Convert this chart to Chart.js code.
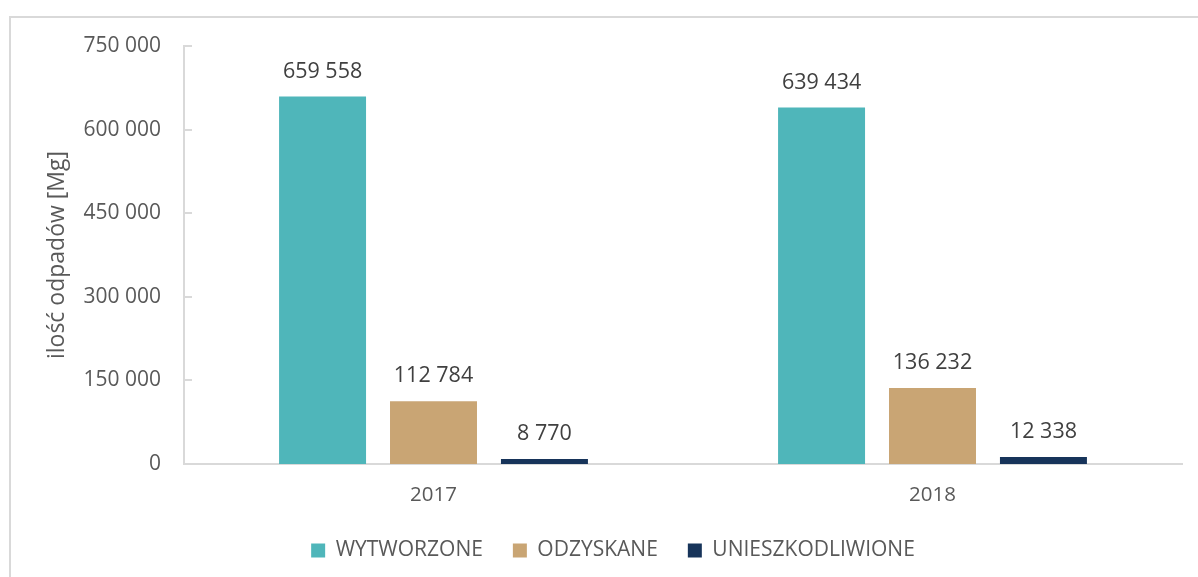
<!DOCTYPE html>
<html lang="pl">
<head>
<meta charset="utf-8">
<title>Odpady 2017–2018</title>
<script src="https://cdn.jsdelivr.net/npm/chart.js"></script>
<style>
  html, body { margin: 0; padding: 0; background: #fff; overflow: hidden; }
  #wrap { position: relative; width: 1198px; height: 577px; }
  #frame {
    position: absolute; left: 9px; top: 16px;
    width: 1300px; height: 700px;
    border: 2px solid #d9d9d9; box-sizing: border-box;
  }
  #chart { position: absolute; left: 0; top: 0; }
</style>
</head>
<body>
<div id="wrap">
  <div id="frame"></div>
  <canvas id="chart" width="1198" height="577"></canvas>
</div>
<script>
const years = ['2017', '2018'];
const wytworzone = [659558, 639434];
const odzyskane = [112784, 136232];
const unieszkodliwione = [8770, 12338];
const yTicks = [0, 150000, 300000, 450000, 600000, 750000];

const FONT = "'Open Sans', 'Noto Sans', sans-serif";
const LINE = '#d9d9d9';

// 659558 -> "659 558"
function fmt(v) {
  return String(v).replace(/\B(?=(\d{3})+(?!\d))/g, ' ');
}

// value labels above each bar
const barLabels = {
  id: 'barLabels',
  afterDatasetsDraw(chart) {
    const ctx = chart.ctx;
    ctx.save();
    ctx.font = '21.5px ' + FONT;
    ctx.fillStyle = '#404040';
    ctx.textAlign = 'center';
    ctx.textBaseline = 'middle';
    chart.data.datasets.forEach((ds, i) => {
      chart.getDatasetMeta(i).data.forEach((bar, j) => {
        ctx.fillText(fmt(ds.data[j]), bar.x, bar.y - 25);
      });
    });
    ctx.restore();
  }
};

// short tick marks pointing into the plot from the value axis
const innerTicks = {
  id: 'innerTicks',
  afterDraw(chart) {
    const y = chart.scales.y;
    const ctx = chart.ctx;
    ctx.save();
    ctx.strokeStyle = LINE;
    ctx.lineWidth = 2;
    yTicks.forEach(v => {
      const py = Math.round(y.getPixelForValue(v));
      ctx.beginPath();
      ctx.moveTo(y.right, py);
      ctx.lineTo(y.right + 8, py);
      ctx.stroke();
    });
    ctx.restore();
  }
};

new Chart(document.getElementById('chart'), {
  type: 'bar',
  data: {
    labels: years,
    datasets: [
      { label: 'WYTWORZONE', data: wytworzone, backgroundColor: '#4fb6ba' },
      { label: 'ODZYSKANE', data: odzyskane, backgroundColor: '#c9a574' },
      { label: 'UNIESZKODLIWIONE', data: unieszkodliwione, backgroundColor: '#17345a' }
    ]
  },
  options: {
    responsive: false,
    animation: false,
    layout: { padding: { left: 44, right: 16, top: 46, bottom: 6 } },
    datasets: {
      bar: { categoryPercentage: 0.667, barPercentage: 0.784 }
    },
    scales: {
      x: {
        grid: { display: false, drawTicks: false },
        border: { color: LINE, width: 2 },
        ticks: { color: '#595959', font: { family: FONT, size: 20.5 }, padding: 19 },
        afterFit(scale) { scale.height = 46; }
      },
      y: {
        min: 0,
        max: 750000,
        afterBuildTicks(scale) { scale.ticks = yTicks.map(v => ({ value: v })); },
        grid: { display: false, drawTicks: false },
        border: { color: LINE, width: 2 },
        ticks: {
          color: '#595959',
          font: { family: FONT, size: 21 },
          padding: 23,
          callback: v => fmt(v)
        },
        title: {
          display: true,
          text: 'ilość odpadów [Mg]',
          color: '#595959',
          font: { family: FONT, size: 23 },
          padding: { top: 0, bottom: 0 }
        },
        afterFit(scale) { scale.width = 140; }
      }
    },
    plugins: {
      legend: {
        position: 'bottom',
        labels: {
          color: '#595959',
          font: { family: FONT, size: 21 },
          boxWidth: 14,
          boxHeight: 14,
          padding: 30
        }
      },
      tooltip: { enabled: false }
    }
  },
  plugins: [barLabels, innerTicks]
});
</script>
</body>
</html>
